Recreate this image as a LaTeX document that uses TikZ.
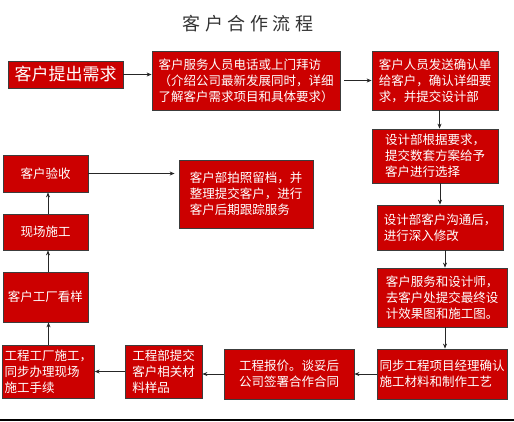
\documentclass[tikz,border=0pt]{standalone}
\usepackage{fontspec}
\setmainfont{Noto Sans CJK SC}
\newfontfamily\titlefont[LetterSpace=25]{Noto Sans CJK SC}
\usetikzlibrary{arrows.meta}
\definecolor{boxred}{RGB}{204,0,0}
\definecolor{boxline}{RGB}{60,60,60}
\definecolor{titlegray}{RGB}{51,51,51}
\tikzset{
	flowbox/.style={
			draw=boxline, line width=0.8pt, fill=boxred, text=white,
			align=left, inner xsep=2pt, inner ysep=2pt,
			font=\fontsize{12.5}{16}\selectfont
		},
	flowline/.style={->, draw=black!85, line width=0.7pt}
}

\begin{document}
\begin{tikzpicture}[x=1pt,y=-1pt,>={Stealth[length=5pt,width=4pt]}]
			      \useasboundingbox (0,0) rectangle (514,421);

			      % title
			      \node (title) at (248,24) {\titlefont\fontsize{18}{20}\selectfont\color{titlegray}客户合作流程};

			      % top row and right column
			      \node[flowbox, minimum width=115pt, minimum height=27pt, font=\fontsize{17}{20}\selectfont] (need) at (65.5,74.5) {客户提出需求};
			      \node[flowbox, minimum width=188pt, minimum height=59pt] (visit) at (246,80.5) {客户服务人员电话或上门拜访\\（介绍公司最新发展同时，详细\\了解客户需求项目和具体要求）};
			      \node[flowbox, minimum width=126pt, minimum height=59pt] (confirm) at (435,80.5) {客户人员发送确认单\\给客户，确认详细要\\求，并提交设计部};
			      \node[flowbox, minimum width=126pt, minimum height=54pt] (plan) at (435,156) {设计部根据要求，\\提交数套方案给予\\客户进行选择};
			      \node[flowbox, minimum width=126pt, minimum height=45pt] (modify) at (440,227.5) {设计部客户沟通后，\\进行深入修改};
			      \node[flowbox, minimum width=130pt, minimum height=59pt] (final) at (442,297.5) {客户服务和设计师，\\去客户处提交最终设\\计效果图和施工图。};
			      \node[flowbox, minimum width=130pt, minimum height=50pt] (sync) at (442,374) {同步工程项目经理确认\\施工材料和制作工艺};

			      % bottom row
			      \node[flowbox, minimum width=130pt, minimum height=50pt] (quote) at (289,374) {工程报价。谈妥后\\公司签署合作合同};
			      \node[flowbox, minimum width=77pt, minimum height=53pt] (sample) at (163.5,371.5) {工程部提交\\客户相关材\\料样品};
			      \node[flowbox, minimum width=91pt, minimum height=53pt] (factory) at (48.5,371.5) {工程工厂施工，\\同步办理现场\\施工手续};

			      % left column
			      \node[flowbox, minimum width=85pt, minimum height=50pt] (view) at (45.5,297) {客户工厂看样};
			      \node[flowbox, minimum width=85pt, minimum height=36pt] (build) at (45.5,232) {现场施工};
			      \node[flowbox, minimum width=85pt, minimum height=37pt] (accept) at (45.5,173.5) {客户验收};
			      \node[flowbox, minimum width=134pt, minimum height=68pt] (archive) at (246,194) {客户部拍照留档，并\\整理提交客户，进行\\客户后期跟踪服务};

			      % connectors
			      \draw[flowline] (need) -- (need -| visit.west);
			      \draw[flowline] ([xshift=4pt]visit.east) -- (confirm.west);
			      \draw[flowline] ([xshift=4.5pt]confirm.south) -- ([xshift=4.5pt]plan.north);
			      \draw[flowline] (plan.south -| modify.north) -- (modify.north);
			      \draw[flowline] ([xshift=3pt]final.north |- modify.south) -- ([xshift=3pt]final.north);
			      \draw[flowline] ([xshift=3pt]final.south) -- ([xshift=3pt]sync.north);
			      \draw[flowline] (sync.west) -- (quote.east);
			      \draw[flowline] (quote.west) -- (quote.west -| sample.east);
			      \draw[flowline] (sample.west) -- (factory.east);
			      \draw[flowline] (factory.north) -- (factory.north |- view.south);
			      \draw[flowline] ([xshift=2.5pt]view.north) -- ([xshift=2.5pt]build.south);
			      \draw[flowline] ([xshift=2.5pt]build.north) -- ([xshift=2.5pt]accept.south);
			      \draw[flowline] (accept.east) -- ([xshift=-4pt]archive.west |- accept.east);

			      % rule at the foot
			      \draw[line width=1.5pt] (0,420) -- (514,420);
		      \end{tikzpicture}
\end{document}
